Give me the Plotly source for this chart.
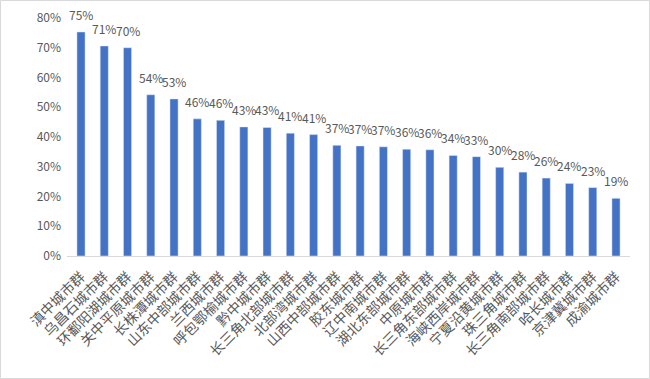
import plotly.graph_objects as go

categories = ["滇中城市群", "乌昌石城市群", "环鄱阳湖城市群", "关中平原城市群", "长株潭城市群",
              "山东中部城市群", "兰西城市群", "呼包鄂榆城市群", "黔中城市群", "长三角北部城市群",
              "北部湾城市群", "山西中部城市群", "胶东城市群", "辽中南城市群", "湖北东部城市群",
              "中原城市群", "长三角东部城市群", "海峡西岸城市群", "宁夏沿黄城市群", "珠三角城市群",
              "长三角南部城市群", "哈长城市群", "京津冀城市群", "成渝城市群"]
values = [75.3, 70.6, 70.0, 54.2, 52.8, 46.1, 45.6, 43.4, 43.2, 41.3, 40.8, 37.2,
          37.0, 36.7, 35.9, 35.7, 33.8, 33.4, 29.8, 28.2, 26.2, 24.4, 23.0, 19.4]
tick_vals = [0, 10, 20, 30, 40, 50, 60, 70, 80]
tick_text = [f"{v}%" for v in tick_vals]

W, H = 650, 379
ml, mr, mt, mb = 67, 20, 18, 123
pw, ph = W - ml - mr, H - mt - mb

fig = go.Figure(go.Bar(
    x=categories, y=values,
    marker=dict(color="#4472C4"),
    hoverinfo="x+y",
))
for c, v in zip(categories, values):
    fig.add_annotation(x=c, y=v, text=f"{round(v)}%", showarrow=False,
                       yanchor="bottom", yshift=7,
                       font=dict(color="#595959", size=12))
fig.update_layout(
    width=W, height=H,
    margin=dict(l=ml, r=mr, t=mt, b=mb, autoexpand=False),
    paper_bgcolor="white", plot_bgcolor="white",
    font=dict(family="Noto Sans CJK SC", color="#595959", size=12),
    bargap=0.65,
    showlegend=False,
    xaxis=dict(tickangle=-45, showline=True, linecolor="#D9D9D9", linewidth=1,
               ticks="", showgrid=False, automargin=False, ticklabelstandoff=6,
               tickfont=dict(size=14, color="#595959")),
    yaxis=dict(range=[0, 80], tickvals=tick_vals, ticktext=tick_text, showgrid=False,
               zeroline=False, showline=False, ticks="", automargin=False,
               ticklabelstandoff=5,
               tickfont=dict(size=12, color="#595959")),
    shapes=[dict(type="rect", xref="paper", yref="paper",
                 x0=(-ml + 0.5) / pw, x1=(pw + mr - 0.5) / pw,
                 y0=(-mb + 0.5) / ph, y1=(ph + mt - 0.5) / ph,
                 line=dict(color="#D9D9D9", width=1), layer="below")],
)
fig.write_html("out.html", config={"displayModeBar": False},
               post_script="document.body.style.margin='0';document.body.style.overflow='hidden';")
